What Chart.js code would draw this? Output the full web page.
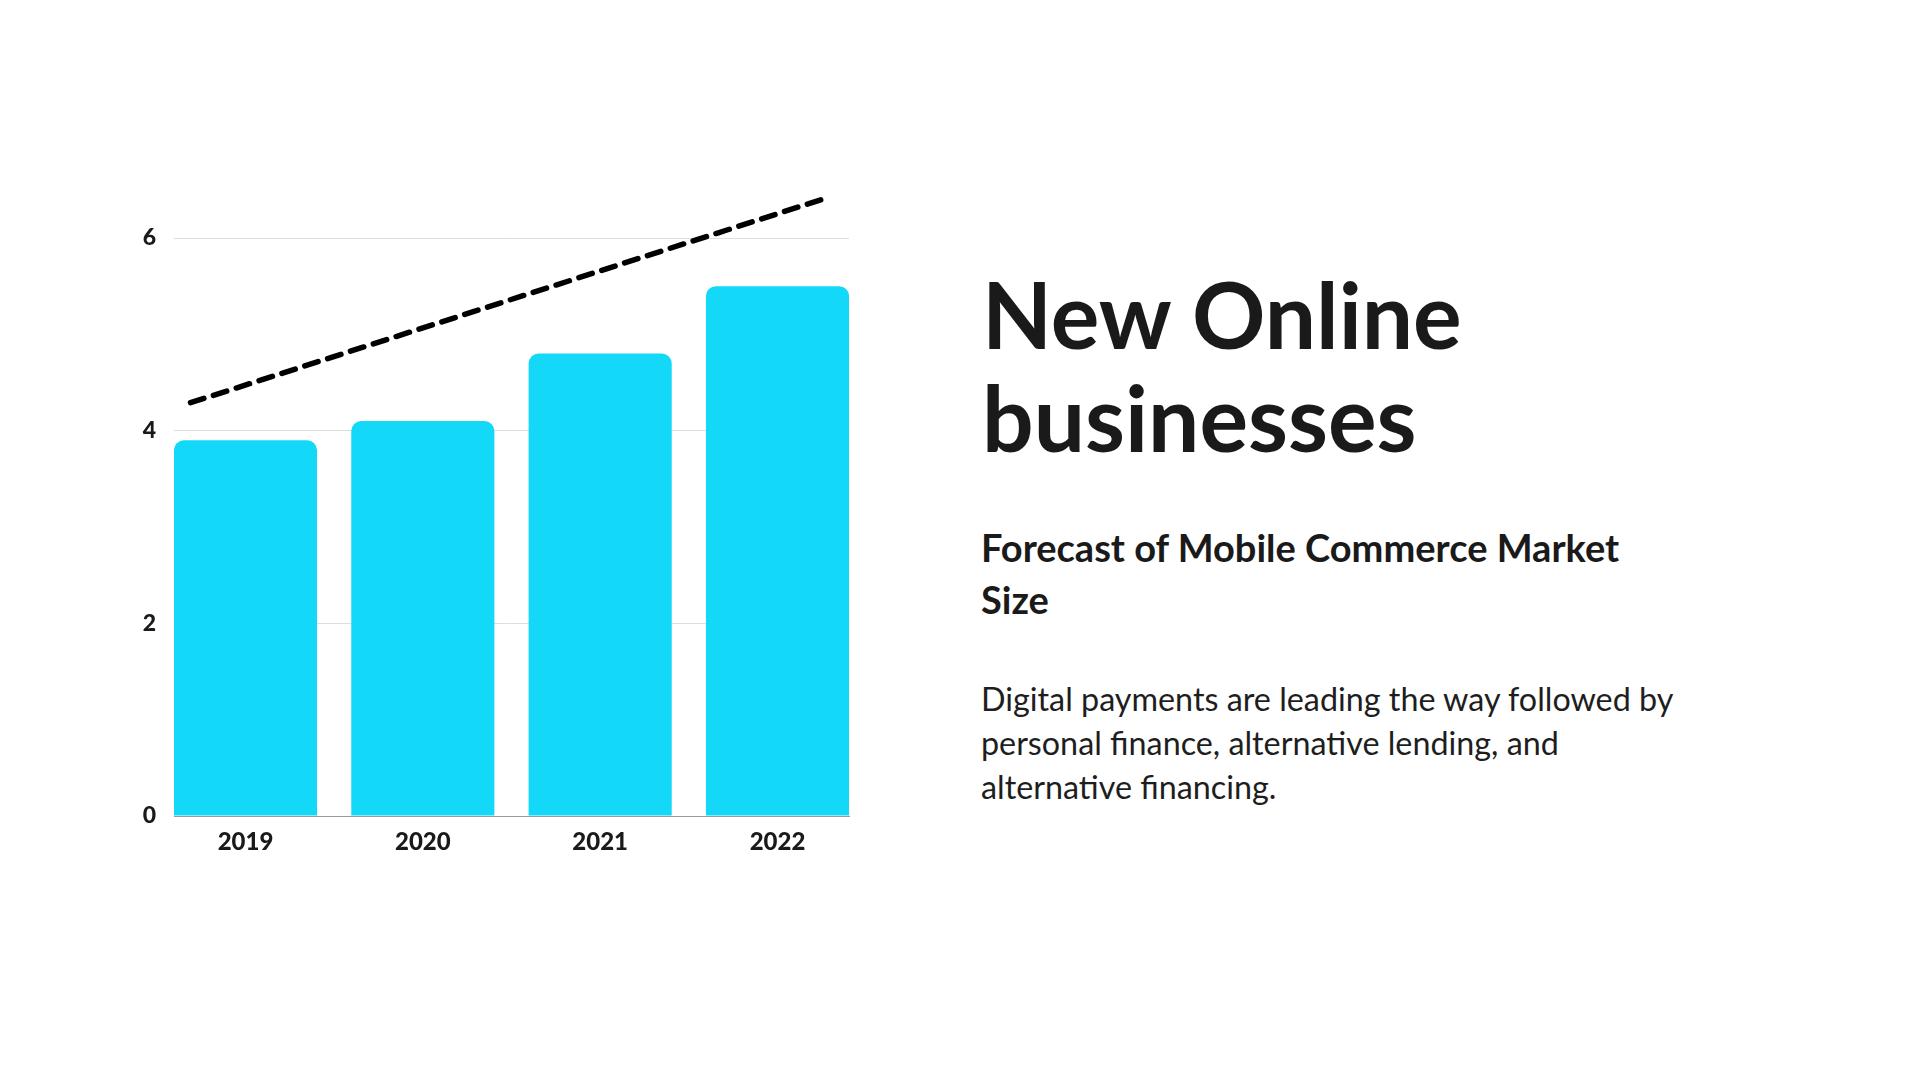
<!DOCTYPE html>
<html>
<head>
<meta charset="utf-8">
<script src="https://cdn.jsdelivr.net/npm/chart.js@4"></script>
<style>
    html, body { margin: 0; padding: 0; background: #ffffff; }
    body { width: 1920px; height: 1080px; position: relative; overflow: hidden; font-family: Lato, sans-serif; color: #1a1a1a; }
    #chartBox { position: absolute; left: 0; top: 0; width: 960px; height: 1080px; }
    .title { position: absolute; left: 982px; top: 262px; font-size: 91px; line-height: 103px; font-weight: 700; white-space: nowrap; }
    .subtitle { position: absolute; left: 981px; top: 522px; font-size: 38px; line-height: 51.5px; font-weight: 700; white-space: nowrap; }
    .body-text { position: absolute; left: 981px; top: 676.5px; font-size: 32.3px; line-height: 44px; font-weight: 400; white-space: nowrap; color: #1e1e1e; }
</style>
</head>
<body>
<div id="chartBox"><canvas id="marketChart" width="960" height="1080"></canvas></div>

<div class="title">New Online<br>businesses</div>
<div class="subtitle">Forecast of Mobile Commerce Market<br>Size</div>
<div class="body-text">Digital payments are leading the way followed by<br>personal finance, alternative lending, and<br>alternative financing.</div>

<script>
// Chart data
const years = ['2019', '2020', '2021', '2022'];
const marketSize = [3.9, 4.1, 4.8, 5.5];
const yTicks = [0, 2, 4, 6];

// Dashed trend line end points (x in bar index units)
const trendX = [-0.31, 3.25];
const trendY = [4.29, 6.40];

const barColor = '#14D8F8';
const textColor = '#1a1a1a';

function drawChart() {
    const ctx = document.getElementById('marketChart').getContext('2d');

    new Chart(ctx, {
        type: 'bar',
        data: {
            datasets: [
                {
                    type: 'line',
                    data: trendX.map((x, i) => ({ x: x, y: trendY[i] })),
                    borderColor: '#000000',
                    borderWidth: 5.5,
                    borderDash: [14, 10],
                    borderCapStyle: 'round',
                    pointRadius: 0,
                    fill: false,
                    clip: false
                },
                {
                    type: 'bar',
                    data: marketSize.map((v, i) => ({ x: i, y: v })),
                    backgroundColor: barColor,
                    borderRadius: 10,
                    borderSkipped: 'start',
                    categoryPercentage: 1,
                    barPercentage: 0.807
                }
            ]
        },
        options: {
            responsive: false,
            animation: false,
            layout: {
                padding: { left: 60, right: 111, top: 238, bottom: 214 }
            },
            plugins: {
                legend: { display: false },
                tooltip: { enabled: false }
            },
            scales: {
                x: {
                    type: 'linear',
                    min: -0.4033,
                    max: 3.4033,
                    offset: false,
                    grid: { display: false },
                    border: { display: true, color: '#9a9a9a', width: 1 },
                    afterBuildTicks: (scale) => {
                        scale.ticks = years.map((_, i) => ({ value: i }));
                    },
                    afterFit: (scale) => { scale.height = 50; },
                    ticks: {
                        padding: 4,
                        color: textColor,
                        font: { family: 'Lato', size: 24, weight: '900' },
                        callback: (value) => years[value]
                    }
                },
                y: {
                    min: 0,
                    max: 6,
                    afterBuildTicks: (scale) => {
                        scale.ticks = yTicks.map(v => ({ value: v }));
                    },
                    afterFit: (scale) => { scale.width = 114; },
                    grid: { color: '#dedede', lineWidth: 1, drawTicks: false },
                    border: { display: false },
                    ticks: {
                        padding: 18,
                        color: textColor,
                        font: { family: 'Lato', size: 23, weight: '900' }
                    }
                }
            }
        }
    });
}

document.fonts.load('900 24px Lato').then(drawChart, drawChart);
</script>
</body>
</html>
